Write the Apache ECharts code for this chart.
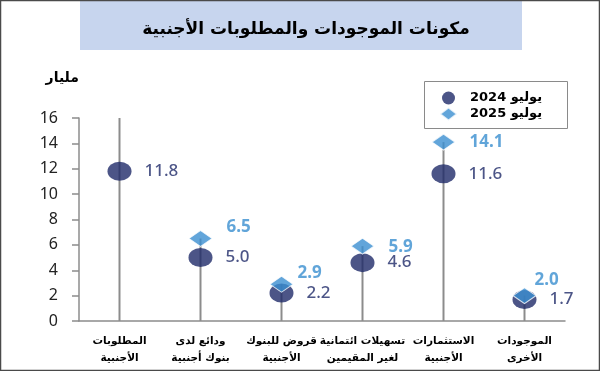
<!DOCTYPE html>
<html>
<head>
<meta charset="utf-8">
<script src="https://cdn.jsdelivr.net/npm/echarts@6/dist/echarts.min.js"></script>
<style>
html,body{margin:0;padding:0;background:#fff;}
#chart{width:600px;height:371px;}
</style>
</head>
<body>
<div id="chart"></div>
<script>
const titleText = 'مكونات الموجودات والمطلوبات الأجنبية';
const unitName = 'مليار';
const categories = [
  'المطلوبات\nالأجنبية',
  'ودائع لدى\nبنوك أجنبية',
  'قروض للبنوك\nالأجنبية',
  'تسهيلات ائتمانية\nلغير المقيمين',
  'الاستثمارات\nالأجنبية',
  'الموجودات\nالأخرى'
];
const seriesNames = ['يوليو 2024', 'يوليو 2025'];
const values2024 = [11.8, 5.0, 2.2, 4.6, 11.6, 1.7];
const values2025 = [null, 6.5, 2.9, 5.9, 14.1, 2.0];
const yTicks = [0, 2, 4, 6, 8, 10, 12, 14, 16];

const yMin = yTicks[0], yMax = yTicks[yTicks.length - 1], yStep = yTicks[1] - yTicks[0];
const stems = categories.map((_, i) =>
  values2025[i] == null ? yMax : Math.max(values2024[i], values2025[i]));

const navy = '#1F2B69';
const blue = '#3B8FD1';
// label nudges for the 2025 labels (layout only)
const nudge2025 = [[0,0],[0,-11],[-10,-11],[0,1],[0,0],[-16,-15]];

const chart = echarts.init(document.getElementById('chart'));
chart.setOption({
  animation: false,
  backgroundColor: '#fff',
  title: {
    text: titleText,
    left: 301, top: 25, textAlign: 'center', textVerticalAlign: 'middle',
    textStyle: { fontFamily: 'DejaVu Sans', fontWeight: 'bold', fontSize: 17, color: '#000' }
  },
  graphic: [
    { type: 'rect', z: -10, shape: { x: 80, y: 0, width: 442, height: 50 }, style: { fill: '#C7D5EE' } },
    { type: 'rect', z: 100, shape: { x: 424.5, y: 81.5, width: 143, height: 47 }, style: { fill: 'none', stroke: '#8a8a8a', lineWidth: 1 } },
    { type: 'rect', z: 100, shape: { x: 0.5, y: 0.5, width: 599, height: 370 }, style: { fill: 'none', stroke: '#4a4a4a', lineWidth: 1.5 } }
  ],
  legend: {
    orient: 'vertical',
    left: 424, top: 81,
    padding: [9, 12, 6, 15],
    itemGap: 0,
    itemWidth: 17, itemHeight: 13,
    borderWidth: 0,
    textStyle: { fontFamily: 'DejaVu Sans', fontWeight: 'bold', fontSize: 13, color: '#000', lineHeight: 16, padding: [0, 0, 0, 8] },
    data: [{ name: seriesNames[0], icon: 'circle' }, { name: seriesNames[1], icon: 'diamond' }]
  },
  grid: { left: 79, right: 35, top: 118, bottom: 50 },
  xAxis: {
    type: 'category',
    data: categories,
    axisLine: { lineStyle: { color: '#8c8c8c', width: 1.5 } },
    axisTick: { show: false },
    axisLabel: { fontFamily: 'DejaVu Sans', fontWeight: 'bold', fontSize: 10.5, color: '#000', lineHeight: 17, margin: 12, interval: 0 }
  },
  yAxis: {
    type: 'value',
    min: yMin, max: yMax, interval: yStep,
    name: unitName,
    nameLocation: 'end',
    nameGap: 33,
    nameTextStyle: { fontFamily: 'DejaVu Sans', fontWeight: 'bold', fontSize: 14, color: '#000', align: 'right' },
    axisLine: { show: true, lineStyle: { color: '#8c8c8c', width: 1.5 } },
    axisTick: { show: true, length: 7, lineStyle: { color: '#8c8c8c', width: 1.5 } },
    splitLine: { show: false },
    axisLabel: { fontFamily: 'Noto Sans', fontSize: 16, color: '#222', margin: 21 }
  },
  series: [
    {
      type: 'bar', name: 'stem', data: stems, barWidth: 2, silent: true, z: 1,
      itemStyle: { color: '#8c8c8c' }
    },
    {
      type: 'scatter', name: seriesNames[0], data: values2024, z: 3,
      symbol: 'circle', symbolSize: [24, 19],
      itemStyle: { color: navy },
      label: { show: true, position: 'right', distance: 13, color: navy, fontFamily: 'Noto Sans', fontWeight: 500, fontSize: 17,
        formatter: p => p.value.toFixed(1) }
    },
    {
      type: 'scatter', name: seriesNames[1], z: 4,
      data: values2025.map((v, i) => v == null ? null : { value: v, label: { offset: nudge2025[i] } }),
      symbol: 'diamond', symbolSize: [23, 16],
      itemStyle: { color: blue, borderColor: '#fff', borderWidth: 1 },
      label: { show: true, position: 'right', distance: 14, color: '#3A8FCF', fontFamily: 'Noto Sans', fontWeight: 'bold', fontSize: 17,
        formatter: p => p.value.toFixed(1) }
    }
  ]
});
</script>
</body>
</html>
